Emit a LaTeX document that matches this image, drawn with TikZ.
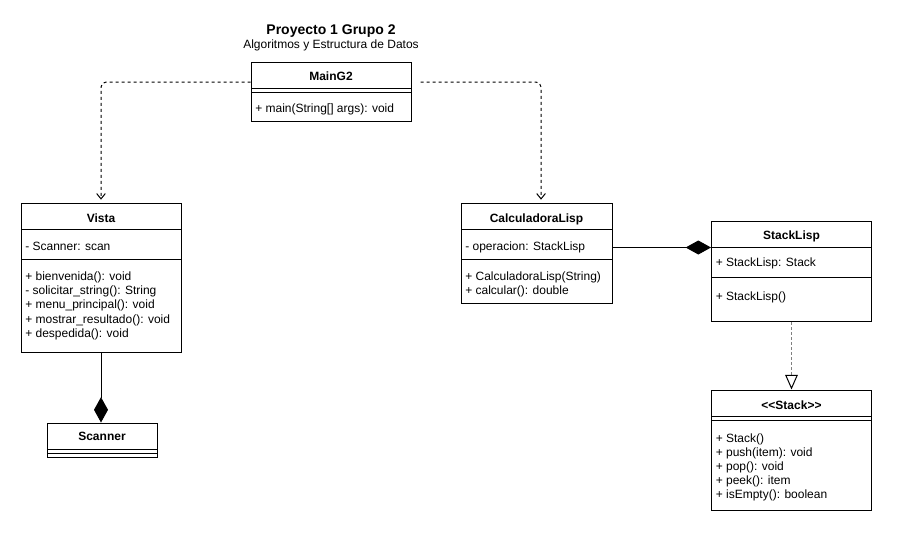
\documentclass[tikz,border=0pt]{standalone}
\usepackage{fontspec}
\setmainfont{Liberation Sans}
\usetikzlibrary{arrows.meta,fit}
\begin{document}
\begin{tikzpicture}[x=0.75pt,y=-0.75pt,
  classbox/.style={draw, line width=0.75pt, inner sep=0pt},
  sepline/.style={line width=0.75pt},
  member/.style={anchor=base west, inner sep=0pt, font=\fontsize{9}{10.8}\selectfont},
  classname/.style={anchor=base, inner sep=0pt, font=\fontsize{9}{10.8}\selectfont\bfseries},
  dep/.style={line width=0.75pt, dash pattern=on 2.25pt off 2.25pt, rounded corners=3.75pt,
    -{Straight Barb[length=4pt,width=6.5pt]}},
  comp/.style={line width=0.75pt, -{Diamond[length=19pt,width=10.5pt]}},
  real/.style={line width=0.75pt, draw=gray, dash pattern=on 2.25pt off 1.5pt,
    -{Triangle[open,length=11pt,width=9.5pt,color=black,fill=white]}},
]
\fill[white] (0,0) rectangle (901,543);
\useasboundingbox (0,0) rectangle (901,543);

% heading
\node[anchor=base, inner sep=0pt, font=\fontsize{10.5}{12}\selectfont\bfseries] (title) at (331,34) {Proyecto 1 Grupo 2};
\node[anchor=base, inner sep=0pt, font=\fontsize{9}{10.8}\selectfont] (subtitle) at (331,48.5) {Algoritmos y Estructura de Datos};

% MainG2
\node[classbox, fit={(251,62) (411,121)}] (main) {};
\draw[sepline] (251,88) -- (411,88) (251,92) -- (411,92);
\node[classname] (mainT) at (331,80) {MainG2};
\node[member] (main1) at (255,112) {+ main(String[] args): void};

% Vista
\node[classbox, fit={(21,203.5) (181,352)}] (vista) {};
\draw[sepline] (21,229.5) -- (181,229.5) (21,259) -- (181,259);
\node[classname] (vistaT) at (101,222) {Vista};
\node[member] (vista0) at (25,250) {- Scanner: scan};
\node[member] (vista1) at (25,280) {+ bienvenida(): void};
\node[member] (vista2) at (25,294.4) {- solicitar\_string(): String};
\node[member] (vista3) at (25,308.8) {+ menu\_principal(): void};
\node[member] (vista4) at (25,323.2) {+ mostrar\_resultado(): void};
\node[member] (vista5) at (25,337.6) {+ despedida(): void};

% Scanner
\node[classbox, fit={(47,423) (157,457)}] (scanner) {};
\draw[sepline] (47,449) -- (157,449) (47,453) -- (157,453);
\node[classname] (scannerT) at (102,440) {Scanner};

% CalculadoraLisp
\node[classbox, fit={(461,203.5) (612,303)}] (calc) {};
\draw[sepline] (461,229.5) -- (612,229.5) (461,259) -- (612,259);
\node[classname] (calcT) at (536.5,222) {CalculadoraLisp};
\node[member] (calc0) at (465,250) {- operacion: StackLisp};
\node[member] (calc1) at (465,280) {+ CalculadoraLisp(String)};
\node[member] (calc2) at (465,294.4) {+ calcular(): double};

% StackLisp
\node[classbox, fit={(711.5,221.5) (871.5,321.5)}] (stacklisp) {};
\draw[sepline] (711.5,247.5) -- (871.5,247.5) (711.5,277.5) -- (871.5,277.5);
\node[classname] (stacklispT) at (791.5,239.5) {StackLisp};
\node[member] (stacklisp0) at (715.5,266) {+ StackLisp: Stack};
\node[member] (stacklisp1) at (715.5,300) {+ StackLisp()};

% Stack interface
\node[classbox, fit={(711.5,390) (871.5,510)}] (stack) {};
\draw[sepline] (711.5,416) -- (871.5,416) (711.5,420) -- (871.5,420);
\node[classname] (stackT) at (791.5,409) {{<}{<}Stack{>}{>}};
\node[member] (stack1) at (715.5,442) {+ Stack()};
\node[member] (stack2) at (715.5,456) {+ push(item): void};
\node[member] (stack3) at (715.5,470) {+ pop(): void};
\node[member] (stack4) at (715.5,484) {+ peek(): item};
\node[member] (stack5) at (715.5,498) {+ isEmpty(): boolean};

% relations
\draw[dep] ([yshift=7.1pt]main.west) -| ([yshift=2.5pt]vista.north);
\draw[dep] ([xshift=6.75pt,yshift=7.1pt]main.east) -| ([xshift=3.4pt,yshift=2.5pt]calc.north);
\draw[comp] (vista.south) -- (vista.south |- scanner.north);
\draw[comp] (calc.east |- 0,247.5) -- (stacklisp.west |- 0,247.5);
\draw[real] (stacklisp.south) -- (stack.north);
\end{tikzpicture}
\end{document}
